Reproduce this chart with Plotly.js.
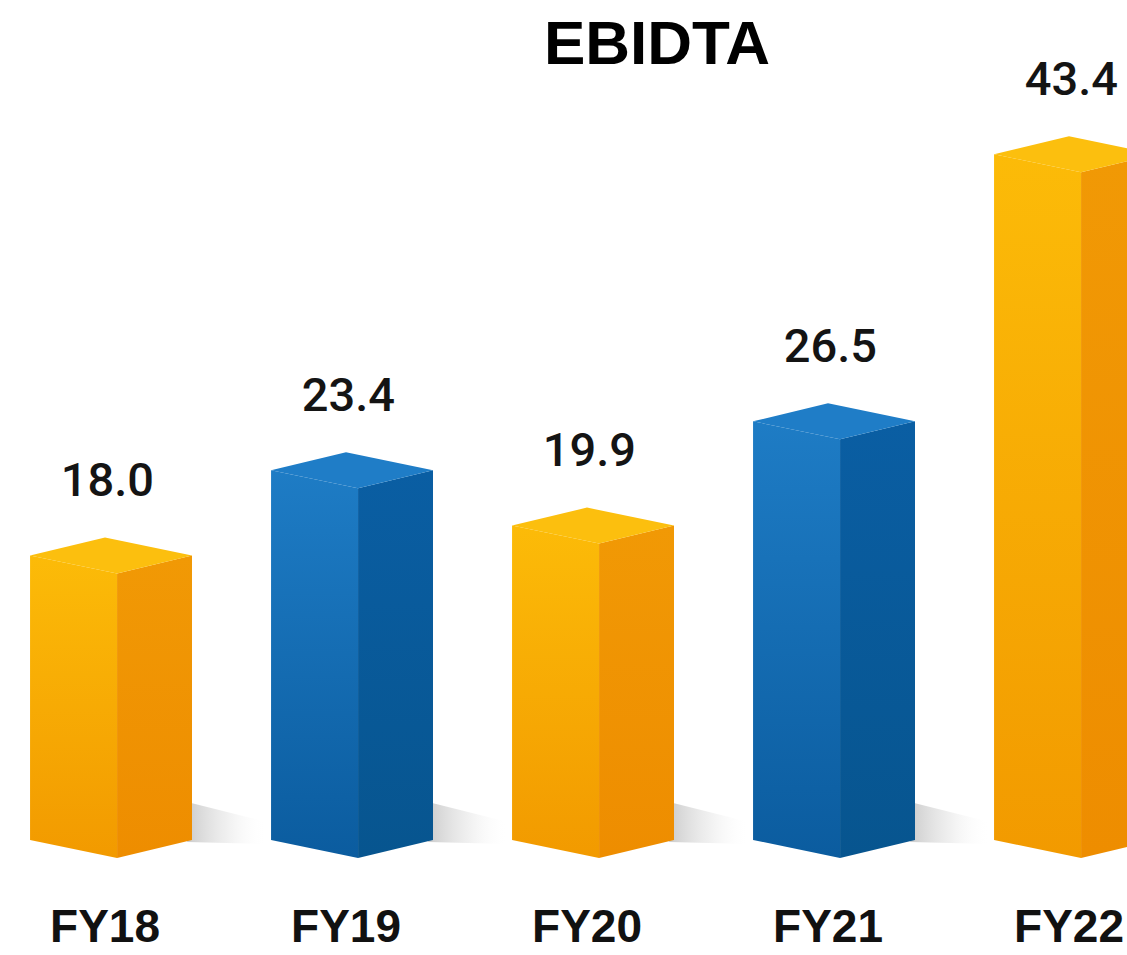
<!DOCTYPE html>
<html><head><meta charset="utf-8">
<script src="https://cdn.plot.ly/plotly-3.0.1.min.js"></script>
<style>html,body{margin:0;padding:0;background:#fff}#chart{width:1127px;height:955px}</style>
</head><body><div id="chart"></div>
<script>
// ---- data ----
const categories = ['FY18', 'FY19', 'FY20', 'FY21', 'FY22'];
const ebitda = [18.0, 23.4, 19.9, 26.5, 43.4];
const valueLabels = ['18.0', '23.4', '19.9', '26.5', '43.4'];
const chartTitle = 'EBIDTA';

// ---- style / geometry ----
const PX_PER_UNIT = 15.8;              // vertical pixels per value unit
const DROP = 18 / PX_PER_UNIT;         // isometric drop of the front edge
const FRONT = 0.05, LEFT_W = 0.361, RIGHT_W = 0.311;
const themes = [
  {left: [[0, '#F29A00'], [1, '#FCBB08']], right: [[0, '#EE8D00'], [1, '#F19905']], top: '#FCBF0E'},
  {left: [[0, '#0B5C9F'], [1, '#1E7CC5']], right: [[0, '#07558F'], [1, '#0A5EA3']], top: '#1F7DC7'}
];
const FONT = '"Liberation Sans", Arial, sans-serif';

const traces = [];
ebitda.forEach((v, i) => {
  const th = themes[i % 2];
  const xF = i + FRONT, xL = xF - LEFT_W, xR = xF + RIGHT_W, xA = xL + RIGHT_W;
  // soft shadow on the floor
  const sx = 75 / 241;
  traces.push({type: 'scatter', mode: 'lines', hoverinfo: 'skip', line: {width: 0},
    x: [xR - 0.02, xR + sx, xR + sx, xR - 0.02],
    y: [DROP - 2 / PX_PER_UNIT, DROP - 4 / PX_PER_UNIT, DROP + 18 / PX_PER_UNIT, DROP + 38 / PX_PER_UNIT],
    fill: 'toself',
    fillgradient: {type: 'horizontal', colorscale: [[0, 'rgba(195,195,195,0.85)'], [0.5, 'rgba(225,225,225,0.5)'], [1, 'rgba(255,255,255,0)']]}});
  // left (front-left) face
  traces.push({type: 'scatter', mode: 'lines', hoverinfo: 'skip', line: {width: 0},
    x: [xL, xF, xF, xL], y: [DROP, 0, v, v + DROP], fill: 'toself',
    fillgradient: {type: 'vertical', colorscale: th.left}});
  // right face
  traces.push({type: 'scatter', mode: 'lines', hoverinfo: 'skip', line: {width: 0},
    x: [xF, xR, xR, xF], y: [0, DROP, v + DROP, v], fill: 'toself',
    fillgradient: {type: 'vertical', colorscale: th.right}});
  // top face
  traces.push({type: 'scatter', mode: 'lines', hoverinfo: 'skip', line: {width: 0},
    x: [xF, xL, xA, xR], y: [v, v + DROP, v + 2 * DROP, v + DROP], fill: 'toself',
    fillcolor: th.top});
});
// value labels
traces.push({type: 'scatter', mode: 'text', hoverinfo: 'skip',
  x: ebitda.map((v, i) => i + FRONT - LEFT_W + RIGHT_W + 0.01),
  y: ebitda.map(v => v + 2 * DROP + 30 / PX_PER_UNIT),
  text: valueLabels, textposition: 'top center',
  textfont: {family: 'Roboto, "Liberation Sans", Arial, sans-serif', size: 47, color: '#141414', weight: 500}});

const zeroPx = 858, plotBottom = 895;
const layout = {
  width: 1127, height: 955,
  margin: {l: 0, r: 0, t: 0, b: 955 - plotBottom, pad: 0},
  paper_bgcolor: '#ffffff', plot_bgcolor: '#ffffff',
  showlegend: false,
  title: {text: chartTitle, x: 0.583, xanchor: 'center', xref: 'container', y: 0.956, yanchor: 'middle', yref: 'container',
    font: {family: FONT, size: 62, color: '#000000', weight: 'bold'}},
  xaxis: {range: [-105 / 241, (1127 - 105) / 241], tickvals: categories.map((c, i) => i), ticktext: categories,
    showgrid: false, zeroline: false, showline: false, ticks: '', fixedrange: true,
    tickfont: {family: FONT, size: 46, color: '#111111', weight: 'bold'}},
  yaxis: {visible: false, fixedrange: true,
    range: [-(plotBottom - zeroPx) / PX_PER_UNIT, zeroPx / PX_PER_UNIT]}
};
Plotly.newPlot('chart', traces, layout, {displayModeBar: false, staticPlot: true});
</script></body></html>
